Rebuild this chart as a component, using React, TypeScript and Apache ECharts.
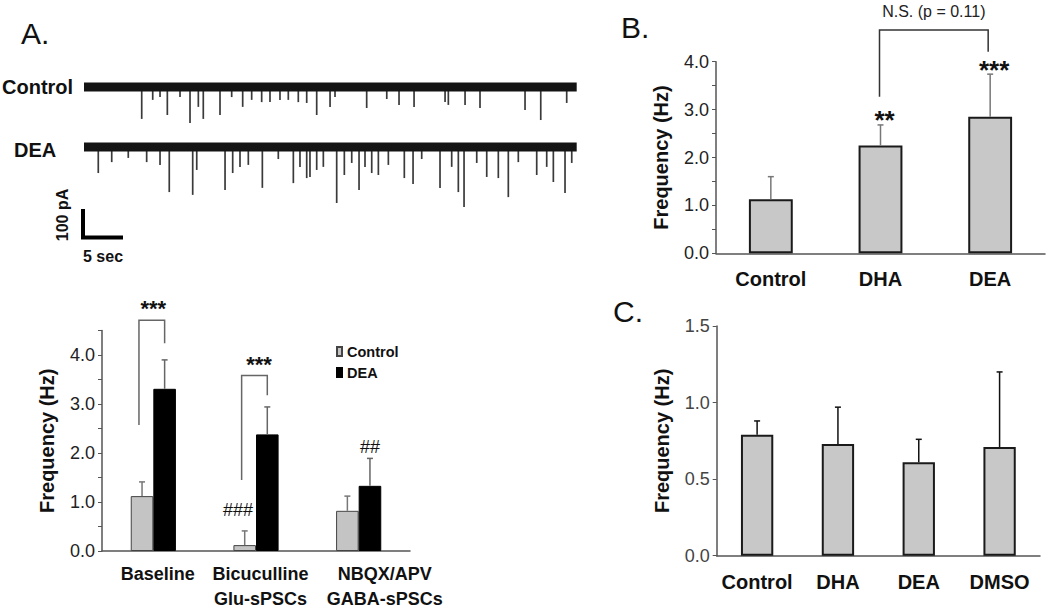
import React, { useEffect, useRef } from 'react';
import * as echarts from 'echarts';

const FONT = 'Liberation Sans, Arial, Helvetica, sans-serif';

// ---- Panel A traces (seconds, pA) ----
const traceDuration = 58.65;
const controlSpikeTimes = [6.87, 8.18, 9.05, 9.92, 11.43, 12.62, 13.61, 14.2, 16.19, 17.58, 18.89, 19.96, 21.15, 22.14, 23.33, 24.32, 25.51, 26.51, 27.7, 29.29, 29.88, 33.65, 36.04, 37.5, 39.29, 42.98, 43.37, 45.36, 47.14, 52.5, 54.37, 57.46];
const controlSpikeAmps = [114, 46, 36, 100, 36, 129, 71, 114, 100, 36, 71, 46, 54, 54, 46, 46, 54, 57, 100, 71, 36, 75, 43, 64, 71, 54, 64, 64, 75, 82, 118, 57];
const deaSpikeTimes = [1.7, 3.3, 5.27, 7.46, 9.05, 10.15, 12.94, 13.42, 16.79, 17.7, 18.57, 19.56, 21.23, 23.13, 24.92, 25.71, 26.51, 26.9, 27.7, 28.49, 30.08, 30.99, 31.87, 32.74, 33.45, 34.25, 35.04, 36.23, 38.13, 39.17, 40.2, 42.38, 43.77, 44.56, 45.24, 46.75, 47.94, 49.32, 50.51, 51.7, 53.89, 55.08, 55.87, 57.26, 58.06];
const deaSpikeAmps = [93, 54, 39, 54, 64, 161, 171, 82, 154, 93, 71, 64, 146, 43, 129, 71, 111, 107, 82, 71, 200, 100, 57, 154, 71, 93, 100, 64, 111, 132, 43, 146, 71, 161, 214, 57, 107, 111, 179, 54, 100, 71, 125, 164, 57];

// ---- Panel A bar chart ----
const groupsA = ['Baseline', 'Bicuculline\nGlu-sPSCs', 'NBQX/APV\nGABA-sPSCs'];
const controlA = [1.12, 0.12, 0.82];
const controlAErr = [0.29, 0.29, 0.3];
const deaA = [3.31, 2.38, 1.33];
const deaAErr = [0.59, 0.56, 0.56];
// brackets: [category, left end, top, right end]
const bracketsA = [
  [0, 2.57, 4.71, 4.24],
  [1, 1.45, 3.58, 3.18],
];
const marksAText = ['***', '***', '###', '##'];
const marksACat = [0, 1, 1, 2];
const marksAY = [5.06, 3.9, 0.84, 2.13];

// ---- Panel B ----
const groupsB = ['Control', 'DHA', 'DEA'];
const valuesB = [1.13, 2.25, 2.85];
const errB = [0.47, 0.43, 0.89];
const bracketB = [1, 3.27, 4.66, 2, 4.21];
const marksBText = ['**', '***'];
const marksBCat = [1, 2];
const marksBY = [2.89, 3.93];
const nsLabel = 'N.S. (p = 0.11)';
const nsY = 5.04;

// ---- Panel C ----
const groupsC = ['Control', 'DHA', 'DEA', 'DMSO'];
const valuesC = [0.79, 0.73, 0.61, 0.71];
const errC = [0.09, 0.24, 0.15, 0.49];

const intLabel = (v: number) => (Math.abs(v % 1) < 1e-9 ? v.toFixed(1) : '');

function spikeSeries(idx: number, times: number[], amps: number[]) {
  return {
    type: 'custom',
    xAxisIndex: idx,
    yAxisIndex: idx,
    clip: false,
    data: times.map((t, i) => [t, amps[i]]),
    renderItem: (_p: any, api: any) => {
      const a = api.coord([api.value(0), 0]);
      const b = api.coord([api.value(0), -api.value(1)]);
      return {
        type: 'line',
        shape: { x1: a[0], y1: a[1], x2: b[0], y2: b[1] },
        style: { stroke: '#3a3a3a', lineWidth: 1.7 },
      };
    },
  };
}

function baselineSeries(idx: number) {
  return { type: 'line', xAxisIndex: idx, yAxisIndex: idx, symbol: 'none', silent: true, data: [[0, 0], [traceDuration, 0]], lineStyle: { color: '#141414', width: 9 } };
}

function errorSeries(axis: number, vals: number[], errs: number[], shift: number, color: string, cap: number) {
  return {
    type: 'custom',
    xAxisIndex: axis,
    yAxisIndex: axis,
    clip: false,
    z: 3,
    data: vals.map((v, i) => [i, v, v + errs[i]]),
    renderItem: (_p: any, api: any) => {
      const band = api.size([1, 0])[0];
      const base = api.coord([api.value(0), api.value(1)]);
      const top = api.coord([api.value(0), api.value(2)]);
      const x = base[0] + shift * band;
      return {
        type: 'group',
        children: [
          { type: 'line', shape: { x1: x, y1: base[1], x2: x, y2: top[1] }, style: { stroke: color, lineWidth: 1.5 } },
          { type: 'line', shape: { x1: x - cap, y1: top[1], x2: x + cap, y2: top[1] }, style: { stroke: color, lineWidth: 1.5 } },
        ],
      };
    },
  };
}

function textMark(text: string, x: number, y: number, size: number, weight: string, dy: number) {
  return {
    type: 'text',
    x,
    y: y + dy,
    style: { text, fill: '#111', fontSize: size, fontWeight: weight, fontFamily: FONT, align: 'center', verticalAlign: 'middle' },
  };
}

export default function App() {
  const ref = useRef<HTMLDivElement>(null);
  useEffect(() => {
    if (!ref.current) return;
    const chart = echarts.init(ref.current, null, { renderer: 'svg' });

    const catLabel = (size: number, margin: number) => ({
      interval: 0, hideOverlap: false,
      fontFamily: FONT, fontWeight: 'bold', fontSize: size, color: '#111', margin, lineHeight: 25,
    });
    const valueAxis = (grid: number, max: number, fmt: any, gap: number, labelColor: string) => ({
      gridIndex: grid,
      type: 'value',
      min: 0,
      max,
      interval: 0.5,
      name: 'Frequency (Hz)',
      nameLocation: 'middle',
      nameRotate: 90,
      nameGap: gap,
      nameTextStyle: { fontFamily: FONT, fontWeight: 'bold', fontSize: 20, color: '#111' },
      axisLine: { show: true, lineStyle: { color: '#555', width: 1.5 } },
      axisTick: { show: true, length: 4, lineStyle: { color: '#555' } },
      splitLine: { show: false },
      axisLabel: { formatter: fmt, fontFamily: FONT, fontSize: 18, color: labelColor, margin: 7 },
    });

    const labelPadA = [9, 9, 52];

    const option: any = {
      animation: false,
      backgroundColor: '#fff',
      legend: {
        data: ['Control', 'DEA'],
        orient: 'vertical',
        left: 331,
        top: 339,
        itemWidth: 5,
        itemHeight: 9,
        itemGap: 6,
        icon: 'rect',
        textStyle: { fontFamily: FONT, fontWeight: 'bold', fontSize: 14.5, color: '#111' },
        selectedMode: false,
      },
      grid: [
        { left: 84, top: 73, width: 492.7, height: 84 },
        { left: 84, top: 133, width: 492.7, height: 84 },
        { left: 102, top: 330.5, width: 308, height: 220.5 },
        { left: 716, top: 61.7, width: 329, height: 191.6 },
        { left: 716.7, top: 326, width: 323.3, height: 229.7 },
      ],
      xAxis: [
        { gridIndex: 0, type: 'value', min: 0, max: traceDuration, show: false },
        { gridIndex: 1, type: 'value', min: 0, max: traceDuration, show: false },
        {
          gridIndex: 2, type: 'category',
          data: groupsA.map((g, i) => ({ value: g, textStyle: { padding: [0, 0, 0, labelPadA[i]] } })),
          axisLine: { lineStyle: { color: '#555', width: 1.5 } },
          axisTick: { length: 5, lineStyle: { color: '#555' } },
          axisLabel: catLabel(18, 10),
        },
        {
          gridIndex: 3, type: 'category', data: groupsB,
          axisLine: { lineStyle: { color: '#555', width: 1.5 } },
          axisTick: { length: 5, lineStyle: { color: '#555' } },
          axisLabel: catLabel(20, 13),
        },
        {
          gridIndex: 4, type: 'category', data: groupsC,
          axisLine: { lineStyle: { color: '#555', width: 1.5 } },
          axisTick: { length: 5, lineStyle: { color: '#555' } },
          axisLabel: catLabel(20, 14),
        },
      ],
      yAxis: [
        { gridIndex: 0, type: 'value', min: -250, max: 50, show: false },
        { gridIndex: 1, type: 'value', min: -250, max: 50, show: false },
        valueAxis(2, 4.5, intLabel, 45, '#222'),
        valueAxis(3, 4, intLabel, 45, '#222'),
        valueAxis(4, 1.5, (v: number) => v.toFixed(1), 45, '#444'),
      ],
      series: [
        baselineSeries(0),
        baselineSeries(1),
        spikeSeries(0, controlSpikeTimes, controlSpikeAmps),
        spikeSeries(1, deaSpikeTimes, deaSpikeAmps),
        {
          type: 'bar', name: 'Control', xAxisIndex: 2, yAxisIndex: 2, data: controlA,
          barWidth: '22%', barGap: '0%',
          itemStyle: { color: '#c4c4c4', borderColor: '#444', borderWidth: 1 },
        },
        {
          type: 'bar', name: 'DEA', xAxisIndex: 2, yAxisIndex: 2, data: deaA,
          barWidth: '22%', barGap: '0%',
          itemStyle: { color: '#000', borderColor: '#000', borderWidth: 1 },
        },
        errorSeries(2, controlA, controlAErr, -0.11, '#777', 3),
        errorSeries(2, deaA, deaAErr, 0.11, '#666', 3),
        {
          type: 'custom', xAxisIndex: 2, yAxisIndex: 2, clip: false,
          data: bracketsA,
          renderItem: (_p: any, api: any) => {
            const band = api.size([1, 0])[0];
            const c = api.value(0);
            const l = api.coord([c, api.value(1)]);
            const t = api.coord([c, api.value(2)]);
            const r = api.coord([c, api.value(3)]);
            const xl = l[0] - 0.14 * band;
            const xr = l[0] + 0.11 * band;
            return {
              type: 'polyline',
              shape: { points: [[xl, l[1]], [xl, t[1]], [xr, t[1]], [xr, r[1]]] },
              style: { stroke: '#666', lineWidth: 1.5, fill: null },
            };
          },
        },
        {
          type: 'custom', xAxisIndex: 2, yAxisIndex: 2, clip: false,
          data: marksACat.map((c, i) => [c, marksAY[i]]),
          renderItem: (p: any, api: any) => {
            const band = api.size([1, 0])[0];
            const pt = api.coord([api.value(0), api.value(1)]);
            const txt = marksAText[p.dataIndex];
            const star = txt[0] === '*';
            const shifts = [0, 0.03, -0.175, 0.11];
            return textMark(txt, pt[0] + shifts[p.dataIndex] * band, pt[1], star ? 22 : 18, star ? 'bold' : 'normal', star ? 5 : 0);
          },
        },
        {
          type: 'bar', name: 'B', xAxisIndex: 3, yAxisIndex: 3, data: valuesB, barWidth: '40%',
          itemStyle: { color: '#c8c8c8', borderColor: '#1a1a1a', borderWidth: 2 },
        },
        errorSeries(3, valuesB, errB, 0, '#777', 3),
        {
          type: 'custom', xAxisIndex: 3, yAxisIndex: 3, clip: false,
          data: [bracketB],
          renderItem: (_p: any, api: any) => {
            const l = api.coord([api.value(0), api.value(1)]);
            const t = api.coord([api.value(0), api.value(2)]);
            const r = api.coord([api.value(3), api.value(4)]);
            const xl = l[0] - 1;
            const xr = r[0] - 2;
            const mid = (xl + xr) / 2;
            const ny = api.coord([api.value(0), nsY])[1];
            return {
              type: 'group',
              children: [
                {
                  type: 'polyline',
                  shape: { points: [[xl, l[1]], [xl, t[1]], [xr, t[1]], [xr, r[1]]] },
                  style: { stroke: '#333', lineWidth: 1.5, fill: null },
                },
                {
                  type: 'text', x: mid, y: ny,
                  style: { text: nsLabel, fill: '#222', fontSize: 16, fontFamily: FONT, align: 'center', verticalAlign: 'middle' },
                },
              ],
            };
          },
        },
        {
          type: 'custom', xAxisIndex: 3, yAxisIndex: 3, clip: false,
          data: marksBCat.map((c, i) => [c, marksBY[i]]),
          renderItem: (p: any, api: any) => {
            const pt = api.coord([api.value(0), api.value(1)]);
            return textMark(marksBText[p.dataIndex], pt[0] + 4, pt[1], 26, 'bold', 5);
          },
        },
        {
          type: 'bar', name: 'C', xAxisIndex: 4, yAxisIndex: 4, data: valuesC, barWidth: '40%',
          itemStyle: { color: '#c8c8c8', borderColor: '#1a1a1a', borderWidth: 2 },
        },
        errorSeries(4, valuesC, errC, 0, '#111', 3),
      ],
      graphic: [
        { type: 'text', x: 21, y: 33, style: { text: 'A.', fontSize: 30, fontFamily: FONT, fill: '#111', verticalAlign: 'middle' } },
        { type: 'text', x: 621, y: 27, style: { text: 'B.', fontSize: 30, fontFamily: FONT, fill: '#111', verticalAlign: 'middle' } },
        { type: 'text', x: 613, y: 311, style: { text: 'C.', fontSize: 30, fontFamily: FONT, fill: '#111', verticalAlign: 'middle' } },
        { type: 'text', x: 2, y: 87, style: { text: 'Control', fontSize: 20, fontWeight: 'bold', fontFamily: FONT, fill: '#111', verticalAlign: 'middle' } },
        { type: 'text', x: 14, y: 150, style: { text: 'DEA', fontSize: 20, fontWeight: 'bold', fontFamily: FONT, fill: '#111', verticalAlign: 'middle' } },
        { type: 'polyline', shape: { points: [[83, 209], [83, 237.5], [123, 237.5]] }, style: { stroke: '#000', lineWidth: 4, fill: null } },
        { type: 'text', x: 62, y: 215, rotation: Math.PI / 2, style: { text: '100 pA', fontSize: 16, fontWeight: 'bold', fontFamily: FONT, fill: '#111', align: 'center', verticalAlign: 'middle' } },
        { type: 'text', x: 103, y: 256, style: { text: '5 sec', fontSize: 16, fontWeight: 'bold', fontFamily: FONT, fill: '#111', align: 'center', verticalAlign: 'middle' } },
      ],
    };
    chart.setOption(option);
    return () => chart.dispose();
  }, []);
  return <div ref={ref} style={{ position: 'fixed', left: 0, top: 0, width: 1050, height: 612 }} />;
}
